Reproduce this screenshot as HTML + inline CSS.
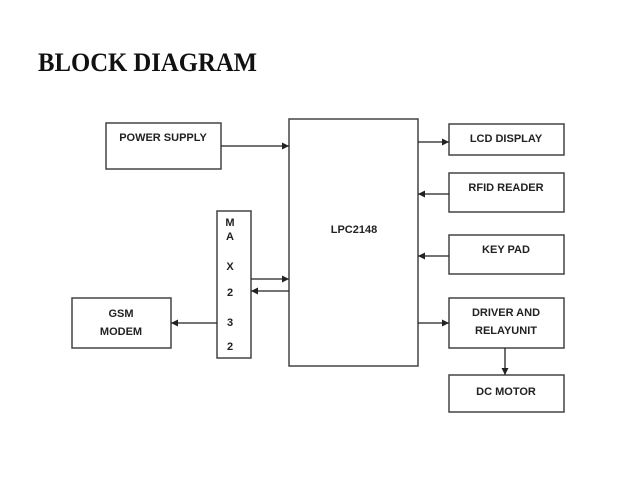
<!DOCTYPE html>
<html><head><meta charset="utf-8"><style>
html,body{margin:0;padding:0;background:#fff;}
svg{display:block;}
</style></head><body>
<svg width="638" height="479" viewBox="0 0 638 479" xmlns="http://www.w3.org/2000/svg">
<defs>
<marker id="a" markerWidth="8" markerHeight="8" refX="7" refY="4" orient="auto" markerUnits="userSpaceOnUse">
<path d="M0,0.5 L7,4 L0,7.5 Z" fill="#222"/>
</marker>
</defs>
<rect width="638" height="479" fill="#fff"/>
<text x="38" y="71" font-family="Liberation Serif, serif" font-weight="bold" font-size="26" textLength="219" lengthAdjust="spacingAndGlyphs" fill="#111">BLOCK DIAGRAM</text>
<g fill="none" stroke="#444" stroke-width="1.5">
<rect x="106" y="123" width="115" height="46"/>
<rect x="289" y="119" width="129" height="247"/>
<rect x="217" y="211" width="34" height="147"/>
<rect x="72" y="298" width="99" height="50"/>
<rect x="449" y="124" width="115" height="31"/>
<rect x="449" y="173" width="115" height="39"/>
<rect x="449" y="235" width="115" height="39"/>
<rect x="449" y="298" width="115" height="50"/>
<rect x="449" y="375" width="115" height="37"/>
</g>
<g stroke="#222" stroke-width="1.3" marker-end="url(#a)">
<line x1="221" y1="146" x2="289" y2="146"/>
<line x1="251" y1="279" x2="289" y2="279"/>
<line x1="289" y1="291" x2="251" y2="291"/>
<line x1="217" y1="323" x2="171" y2="323"/>
<line x1="418" y1="142" x2="449" y2="142"/>
<line x1="449" y1="194" x2="418" y2="194"/>
<line x1="449" y1="256" x2="418" y2="256"/>
<line x1="418" y1="323" x2="449" y2="323"/>
<line x1="505" y1="348" x2="505" y2="375"/>
</g>
<g font-family="Liberation Sans, sans-serif" font-weight="bold" font-size="11" fill="#222" text-anchor="middle">
<text x="163" y="141">POWER SUPPLY</text>
<text x="354" y="233">LPC2148</text>
<text x="506" y="142">LCD DISPLAY</text>
<text x="506" y="191">RFID READER</text>
<text x="506" y="253">KEY PAD</text>
<text x="506" y="316">DRIVER AND</text>
<text x="506" y="334">RELAYUNIT</text>
<text x="506" y="395">DC MOTOR</text>
<text x="121" y="317">GSM</text>
<text x="121" y="335">MODEM</text>
<text x="230" y="226">M</text>
<text x="230" y="240">A</text>
<text x="230" y="270">X</text>
<text x="230" y="296">2</text>
<text x="230" y="326">3</text>
<text x="230" y="350">2</text>
</g>
</svg>
</body></html>
